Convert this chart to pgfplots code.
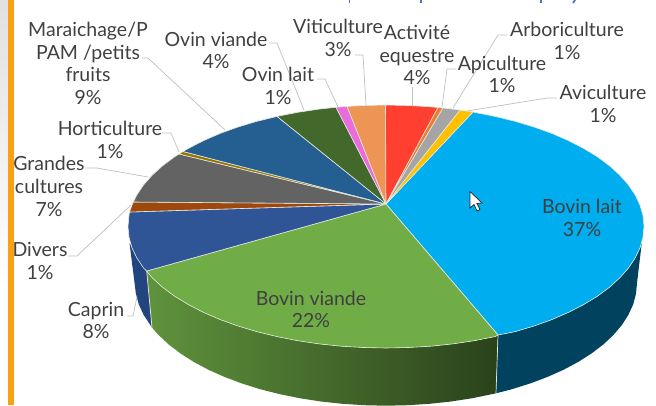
\documentclass[border=0pt]{standalone}
\usepackage{pgfplots}
\pgfplotsset{compat=1.18}
\usepackage{fontspec}
\setmainfont{Lato}
\definecolor{txt}{HTML}{404040}
\definecolor{lead}{HTML}{BFBFBF}
\definecolor{edge}{HTML}{E4E8E0}
\definecolor{cLait}{HTML}{00ADEE}
\definecolor{cViande}{HTML}{70AD47}
\definecolor{cCaprin}{HTML}{2F5597}
\definecolor{cCaprinS}{HTML}{23457F}
\definecolor{cLaitS}{HTML}{01435F}
\definecolor{cDivers}{HTML}{9E480E}
\definecolor{cGrandes}{HTML}{636363}
\definecolor{cHorti}{HTML}{997300}
\definecolor{cMar}{HTML}{255E91}
\definecolor{cOV}{HTML}{43682B}
\definecolor{cOL}{HTML}{E96BDC}
\definecolor{cViti}{HTML}{ED9555}
\definecolor{cEq}{HTML}{FF4030}
\definecolor{cArb}{HTML}{ED7D31}
\definecolor{cApi}{HTML}{A5A5A5}
\definecolor{cAvi}{HTML}{FFC000}
\definecolor{cBar}{HTML}{FBA010}
\definecolor{cTitle}{HTML}{4472C4}
\tikzset{lab/.style={font=\fontsize{19.5}{22.7}\selectfont,text=txt,align=center,inner sep=0pt},
  slice/.style={draw=edge,line width=0.6pt,line join=round},
  leader/.style={draw=lead,line width=0.7pt,mark=none}}
\begin{document}
\begin{tikzpicture}
\path[use as bounding box] (0,0) rectangle (656pt,405pt);
\begin{axis}[
  width=656pt,height=405pt,scale only axis,
  xmin=0,xmax=656,ymin=0,ymax=405,y dir=reverse,
  axis lines=none,clip=true,
]
% left band
\addplot[draw=none,top color=black!12,bottom color=white] coordinates {(0,0)(8,0)(8,290)(0,290)} -- cycle;
\addplot[draw=none,fill=cBar] coordinates {(8,0)(14,0)(14,405)(8,405)} -- cycle;
% cut-off title
\addplot[cTitle,line width=1.8pt] coordinates {(349.5,0)(349.5,2.5)};
\addplot[cTitle,line width=1.8pt] coordinates {(421,0)(421,2.5)};
\addplot[cTitle,line width=1.8pt] coordinates {(541,0)(541,2.5)};
\addplot[cTitle,line width=1.8pt] coordinates {(575,0)(573,3)};
% sides
\addplot[draw=none,fill=cCaprinS] coordinates {(129.5,243)(131.9,247.6)(136.8,257.9)(143.6,268.1)(146.7,271)(152,327.6)(143.6,314.8)(138.8,304.4)(135.9,293.7)} -- cycle;
\addplot[draw=none,left color=cViande!85!black,middle color=cViande!65!black,right color=cViande!38!black] coordinates {(146.7,271)(152.2,277.8)(162.6,287.3)(174.6,296.2)(188.4,304.6)(203.6,312.4)(220.2,319.6)(238,326)(257,331.7)(277,336.6)(297.8,340.7)(319.2,343.9)(341.2,346.2)(363.5,347.5)(386,348)(408.5,347.5)(430.8,346.2)(452.8,343.9)(474.2,340.7)(495,336.6)(498,335)(496,393.3)(471.8,398.3)(451,401.5)(429.6,403.8)(407.9,405.2)(386,405.7)(364.1,405.2)(342.4,403.8)(321,401.5)(300.2,398.3)(280,394.2)(260.5,389.3)(242,383.5)(224.7,377)(208.5,369.8)(193.7,361.9)(180.4,353.4)(168.6,344.4)(158.5,334.9)(152,327.6)} -- cycle;
\addplot[draw=none,fill=cLaitS] coordinates {(498,335)(515,331.7)(534,326)(551.8,319.6)(568.4,312.4)(583.6,304.6)(597.4,296.2)(609.4,287.3)(619.8,277.8)(628.4,268.1)(635.2,257.9)(640.1,247.6)(642,241)(637,283)(636,293.7)(633.2,304.4)(628.4,314.8)(621.9,325)(613.5,334.9)(603.4,344.4)(591.6,353.4)(578.3,361.9)(563.5,369.8)(547.3,377)(530,383.5)(511.5,389.3)(496,393.3)} -- cycle;
\addplot[edge,line width=0.7pt] coordinates {(146.7,271)(152,327.6)};
\addplot[edge,line width=0.7pt] coordinates {(498,335)(496,393.3)};
% top slices
\addplot[slice,fill=cLait] coordinates {(386,204)(473,112)(474.2,112.3)(495,116.4)(515,121.3)(534,127)(551.8,133.4)(568.4,140.6)(583.6,148.4)(597.4,156.8)(609.4,165.75)(619.8,175.2)(628.4,184.9)(635.2,195.1)(640.1,205.4)(643,215.9)(644,226.5)(643,237.1)(640.1,247.6)(635.2,257.9)(628.4,268.1)(619.8,277.8)(609.4,287.3)(597.4,296.2)(583.6,304.6)(568.4,312.4)(551.8,319.6)(534,326)(515,331.7)(498,335)} -- cycle;
\addplot[slice,fill=cViande] coordinates {(386,204)(498,335)(495,336.6)(474.2,340.7)(452.8,343.9)(430.8,346.2)(408.5,347.5)(386,348)(363.5,347.5)(341.2,346.2)(319.2,343.9)(297.8,340.7)(277,336.6)(257,331.7)(238,326)(220.2,319.6)(203.6,312.4)(188.4,304.6)(174.6,296.2)(162.6,287.3)(152.2,277.8)(146.7,271)} -- cycle;
\addplot[slice,fill=cCaprin] coordinates {(386,204)(146.7,271)(143.6,268.1)(136.8,257.9)(131.9,247.6)(129,237.1)(128,226.5)(129,215.9)(129.5,212)} -- cycle;
\addplot[slice,fill=cDivers] coordinates {(386,204)(129.5,212)(131.9,205.4)(133.3,202)} -- cycle;
\addplot[slice,fill=cGrandes] coordinates {(386,204)(133.3,202)(136.8,195.1)(143.6,184.9)(152.2,175.2)(162.6,165.75)(174.6,156.8)(179,154)} -- cycle;
\addplot[slice,fill=cHorti] coordinates {(386,204)(179,154)(183,151.5)} -- cycle;
\addplot[slice,fill=cMar] coordinates {(386,204)(183,151.5)(188.4,148.4)(203.6,140.6)(220.2,133.4)(238,127)(257,121.3)(277,116.4)} -- cycle;
\addplot[slice,fill=cOV] coordinates {(386,204)(277,116.4)(297.8,112.3)(319.2,109.1)(336,107.3)} -- cycle;
\addplot[slice,fill=cOL] coordinates {(386,204)(336,107.3)(347,106.4)} -- cycle;
\addplot[slice,fill=cViti] coordinates {(386,204)(347,106.4)(363.5,105.5)(385.5,105)} -- cycle;
\addplot[slice,fill=cEq] coordinates {(386,204)(385.5,105)(408.5,105.5)(430.8,106.8)(438,107.5)} -- cycle;
\addplot[slice,fill=cArb] coordinates {(386,204)(438,107.5)(443,108)} -- cycle;
\addplot[slice,fill=cApi] coordinates {(386,204)(443,108)(452.8,109.1)(460,110.1)} -- cycle;
\addplot[slice,fill=cAvi] coordinates {(386,204)(460,110.1)(473,112)} -- cycle;
% leaders
\addplot[leader] coordinates {(142,58)(148,58)(225,130)};
\addplot[leader] coordinates {(269,43)(277,43)(304,110)};
\addplot[leader] coordinates {(317,79)(325,79)(338,107)};
\addplot[leader] coordinates {(355,55)(363,55)(366,105)};
\addplot[leader] coordinates {(412,87)(412,105)};
\addplot[leader] coordinates {(456,69)(447,69)(442,107)};
\addplot[leader] coordinates {(507,35)(498,35)(453,108)};
\addplot[leader] coordinates {(557,98)(547,98)(467,111)};
\addplot[leader] coordinates {(162,133)(171,133)(179,152)};
\addplot[leader] coordinates {(85,168)(97,168)(148,177)};
\addplot[leader] coordinates {(68,256)(77,256)(131,205)};
\addplot[leader] coordinates {(127,316)(133,316)(137,297)};
% cursor
\addplot[fill=white,draw=black!85,line width=0.7pt] coordinates {(470,191.5)(470,208)(474,204.5)(477,211)(480,209.5)(477,203.5)(482,203)} -- cycle;
% labels
\node[lab] at (axis cs:88,63.5) {Maraichage/P\\PAM /petits\\fruits\\9\%};
\node[lab] at (axis cs:216,50.5) {Ovin viande\\4\%};
\node[lab] at (axis cs:278,86) {Ovin lait\\1\%};
\node[lab] at (axis cs:338,38) {Viticulture\\3\%};
\node[lab] at (axis cs:417,55) {Activité\\equestre\\4\%};
\node[lab] at (axis cs:502,74.5) {Apiculture\\1\%};
\node[lab] at (axis cs:567,41) {Arboriculture\\1\%};
\node[lab] at (axis cs:603,104) {Aviculture\\1\%};
\node[lab] at (axis cs:110,140) {Horticulture\\1\%};
\node[lab] at (axis cs:49,186.5) {Grandes\\cultures\\7\%};
\node[lab] at (axis cs:40,261) {Divers\\1\%};
\node[lab] at (axis cs:96,320.5) {Caprin\\8\%};
\node[lab] at (axis cs:311,309.5) {Bovin viande\\22\%};
\node[lab] at (axis cs:582,218) {Bovin lait\\37\%};
\end{axis}
\end{tikzpicture}
\end{document}
